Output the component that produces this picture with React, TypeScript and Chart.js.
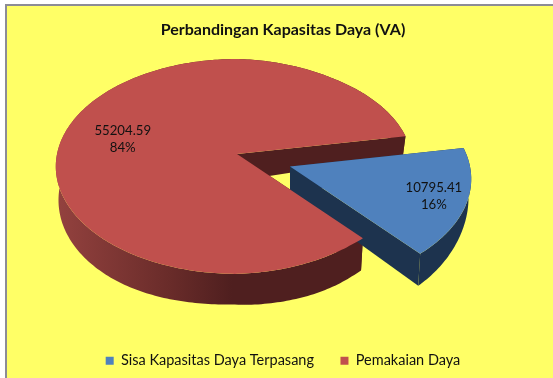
import React, { useEffect, useRef } from "react";
import { Chart, registerables } from "chart.js";

Chart.register(...registerables);

const categories = ["Sisa Kapasitas Daya Terpasang", "Pemakaian Daya"];
const values = [10795.41, 55204.59];
const faceColors = ["#4F81BD", "#C0504D"];
const titleText = "Perbandingan Kapasitas Daya (VA)";

const FONT = "Lato, 'Open Sans', sans-serif";
const K = 0.116, RX = 180, RY = 106;
const APEX = { x: 237, y: 154 };
const EXPLODE = [{ x: 53, y: 12.5 }, { x: 0, y: 0 }];
const LABEL_R = [0.82, 0.69];
const LABEL_DY = [0, 9];

function project(th: number, r: number, slice: number, bottom: boolean) {
  const X0 = Math.cos(th);
  const inset = slice === 1 ? 1 - 0.03 * Math.min(1, Math.max(0, X0) / 0.6) : 1;
  const X = X0 * r * inset, Y = Math.sin(th) * r * inset;
  const w = 1 - K * Y;
  let sx = (RX * X) / w, sy = (RY * Y) / w;
  if (bottom) {
    const xp = Math.max(0, X);
    sx *= 0.985;
    sy += 27 + 6 * Y - 2.5 * Math.pow(Math.max(0, Y), 8) + 4 * Math.sqrt(xp) - 13 * Math.pow(xp, 4) + 6 * Math.max(0, -X);
  }
  return { x: APEX.x + EXPLODE[slice].x + sx, y: APEX.y + EXPLODE[slice].y + sy };
}

function arcPoints(a: number, b: number, slice: number, bottom: boolean) {
  const pts = [];
  const n = Math.max(8, Math.ceil((b - a) * 60));
  for (let i = 0; i <= n; i++) pts.push(project(a + ((b - a) * i) / n, 1, slice, bottom));
  return pts;
}

function fillPoly(ctx: CanvasRenderingContext2D, pts: { x: number; y: number }[]) {
  ctx.beginPath();
  pts.forEach((p, j) => (j ? ctx.lineTo(p.x, p.y) : ctx.moveTo(p.x, p.y)));
  ctx.closePath();
  ctx.fill();
}

const pie3d = {
  id: "pie3d",
  beforeDatasetsDraw(chart: any) {
    const ctx = chart.ctx as CanvasRenderingContext2D;
    const arcs = chart.getDatasetMeta(0).data as any[];
    const redWall = ctx.createLinearGradient(55, 0, 360, 0);
    redWall.addColorStop(0, "#94423F");
    redWall.addColorStop(0.37, "#6A2C2A");
    redWall.addColorStop(0.58, "#4F1F1F");
    redWall.addColorStop(1, "#4F1F1F");
    const wallFill = ["#1D334E", redWall];
    const drawWalls = (i: number) => {
      const { startAngle: a, endAngle: b } = arcs[i];
      const top = arcPoints(a, b, i, false);
      const bot = arcPoints(a, b, i, true);
      const ca = project(a, 0, i, false), cb = project(a, 0, i, true);
      ctx.fillStyle = wallFill[i] as any;
      fillPoly(ctx, [...top, ...bot.slice().reverse()]);
      fillPoly(ctx, [ca, top[0], bot[0], cb]);
      fillPoly(ctx, [ca, top[top.length - 1], bot[bot.length - 1], cb]);
    };
    const drawFace = (i: number) => {
      const { startAngle: a, endAngle: b } = arcs[i];
      ctx.fillStyle = faceColors[i];
      fillPoly(ctx, [project(a, 0, i, false), ...arcPoints(a, b, i, false)]);
    };
    ctx.save();
    drawWalls(1);
    drawWalls(0);
    drawFace(0);
    drawFace(1);
    const total = values.reduce((s, v) => s + v, 0);
    ctx.fillStyle = "#111";
    ctx.font = "13.2px " + FONT;
    ctx.textAlign = "center";
    ctx.textBaseline = "middle";
    arcs.forEach((arc, i) => {
      const mid = (arc.startAngle + arc.endAngle) / 2;
      const p = project(mid, LABEL_R[i], i, false);
      ctx.fillText(values[i].toFixed(2), p.x, p.y + LABEL_DY[i] - 8.5);
      ctx.fillText(Math.round((values[i] / total) * 100) + "%", p.x, p.y + LABEL_DY[i] + 8.5);
    });
    ctx.restore();
    return false;
  },
};

export default function App() {
  const ref = useRef<HTMLCanvasElement>(null);
  useEffect(() => {
    document.body.style.margin = "0";
    document.body.style.background = "#fff";
    const chart = new Chart(ref.current!, {
      type: "pie",
      data: {
        labels: categories,
        datasets: [{ data: values, backgroundColor: faceColors, borderWidth: 0 }],
      },
      options: {
        responsive: false,
        animation: false,
        rotation: 79.8,
        layout: { padding: { top: 8, bottom: 0 } },
        plugins: {
          tooltip: { enabled: false },
          title: {
            display: true,
            text: titleText,
            color: "#111",
            font: { family: FONT, size: 16, weight: "bold" },
            padding: { top: 12, bottom: 8 },
          },
          legend: {
            position: "bottom",
            labels: {
              color: "#111",
              font: { family: FONT, size: 14.5 },
              boxWidth: 8,
              boxHeight: 8,
              padding: 26.5,
            },
          },
        },
      },
      plugins: [pie3d],
    } as any);
    return () => chart.destroy();
  }, []);
  return (
    <div style={{ position: "relative", width: 553, height: 378, overflow: "hidden" }}>
      <div
        style={{
          position: "absolute",
          left: 5,
          top: 4,
          width: 600,
          height: 420,
          background: "#FFFF66",
          border: "2px solid #8C8C96",
          boxSizing: "border-box",
        }}
      />
      <canvas ref={ref} width={566} height={378} style={{ position: "absolute", left: 0, top: 0, width: 566, height: 378 }} />
    </div>
  );
}
